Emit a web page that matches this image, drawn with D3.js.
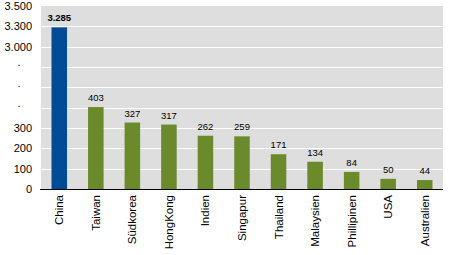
<!DOCTYPE html>
<html>
<head>
<meta charset="utf-8">
<script src="https://cdn.jsdelivr.net/npm/d3@7"></script>
<style>
body { margin: 0; background: #fff; }
text { font-family: "Liberation Sans", Arial, sans-serif; fill: #000; }
</style>
</head>
<body>
<div id="chart"></div>
<script>
// data
var countries = ["China", "Taiwan", "Südkorea", "HongKong", "Indien", "Singapur", "Thailand", "Malaysien", "Phillipinen", "USA", "Australien"];
var values = [3285, 403, 327, 317, 262, 259, 171, 134, 84, 50, 44];
var valueLabels = ["3.285", "403", "327", "317", "262", "259", "171", "134", "84", "50", "44"];
// broken axis: 0-600 evenly, then 3000, 3300, 3500
var tickValues = [0, 100, 200, 300, 400, 500, 600, 3000, 3300, 3500];
var tickLabels = ["0", "100", "200", "300", ".", ".", ".", "3.000", "3.300", "3.500"];

var margin = {top: 6, right: 17, bottom: 66, left: 41},
    width = 460 - margin.left - margin.right,
    height = 255 - margin.top - margin.bottom;

var svg = d3.select("#chart").append("svg")
    .attr("width", 460)
    .attr("height", 255)
  .append("g")
    .attr("transform", "translate(" + margin.left + "," + margin.top + ")");

var x = d3.scaleBand()
    .domain(countries)
    .range([0, width])
    .paddingInner(0.575)
    .paddingOuter(0.2875);

// piecewise scale, each tick gets an equal step
var y = d3.scaleLinear()
    .domain(tickValues)
    .range(tickValues.map(function(d, i) { return height - i * height / (tickValues.length - 1); }));

// background
svg.append("rect")
    .attr("width", width)
    .attr("height", height)
    .attr("fill", "#dedede");

// grid
svg.append("g")
    .selectAll("line")
    .data(tickValues.slice(1, -1))
    .enter().append("line")
    .attr("x1", 0)
    .attr("x2", width)
    .attr("y1", function(d) { return Math.round(y(d)) + 0.5; })
    .attr("y2", function(d) { return Math.round(y(d)) + 0.5; })
    .attr("stroke", "#fff")
    .attr("stroke-width", 1);

// y axis labels
var yAxis = svg.append("g")
    .call(d3.axisLeft(y)
        .tickValues(tickValues)
        .tickFormat(function(d, i) { return tickLabels[i]; })
        .tickSize(0)
        .tickPadding(9));
yAxis.select(".domain").remove();
yAxis.selectAll("text")
    .attr("font-family", "Liberation Sans, Arial, sans-serif")
    .attr("font-size", "11px")
    .attr("fill", "#000");
yAxis.selectAll(".tick text")
    .filter(function(d, i) { return tickLabels[i] == "."; })
    .attr("text-anchor", "middle")
    .attr("x", -22)
    .attr("dy", "-0.1em")
    .attr("fill", "#a39a3c");

// bars
svg.selectAll(".bar")
    .data(values)
    .enter().append("rect")
    .attr("class", "bar")
    .attr("x", function(d, i) { return x(countries[i]); })
    .attr("width", x.bandwidth())
    .attr("y", function(d) { return y(d); })
    .attr("height", function(d) { return height - y(d); })
    .attr("fill", function(d, i) { return i == 0 ? "#004b96" : "#6b8a2b"; });

// value labels
svg.selectAll(".val")
    .data(values)
    .enter().append("text")
    .attr("class", "val")
    .attr("x", function(d, i) { return x(countries[i]) + x.bandwidth() / 2; })
    .attr("y", function(d) { return y(d) - 6; })
    .attr("text-anchor", "middle")
    .attr("font-size", "9.5px")
    .attr("font-weight", function(d, i) { return i == 0 ? "bold" : "normal"; })
    .text(function(d, i) { return valueLabels[i]; });

// baseline
svg.append("line")
    .attr("x1", -1)
    .attr("x2", width)
    .attr("y1", height + 0.5)
    .attr("y2", height + 0.5)
    .attr("stroke", "#000")
    .attr("stroke-width", 1);

// category labels
svg.selectAll(".cat")
    .data(countries)
    .enter().append("text")
    .attr("class", "cat")
    .attr("transform", function(d) {
        return "translate(" + (x(d) + x.bandwidth() / 2) + "," + (height + 6) + ") rotate(-90)";
    })
    .attr("text-anchor", "end")
    .attr("dy", "0.35em")
    .attr("font-size", "11.5px")
    .text(function(d) { return d; });
</script>
</body>
</html>
